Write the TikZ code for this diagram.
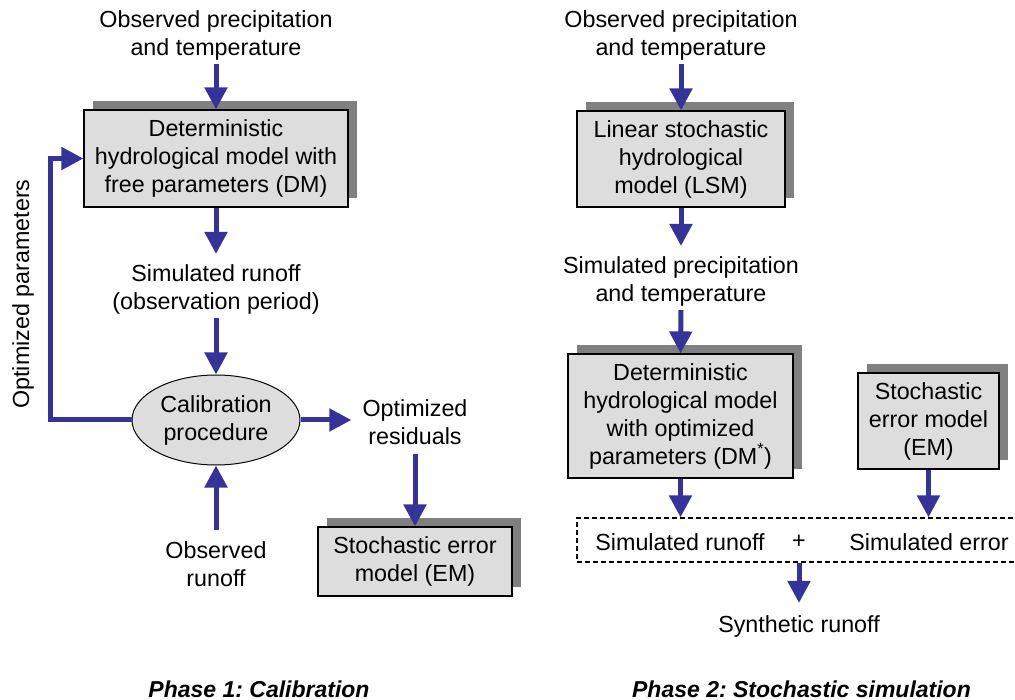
\documentclass[tikz,border=0pt]{standalone}
\usepackage{fontspec}
\setmainfont{Liberation Sans}
\usetikzlibrary{arrows.meta,shapes.geometric,shadows}
\definecolor{arrowblue}{HTML}{333399}
\definecolor{boxfill}{HTML}{DDDDDD}
\definecolor{shadowgray}{HTML}{808080}
\frenchspacing
\tikzset{
  txt/.style={font=\fontsize{23.3}{28}\selectfont, align=center, inner sep=4pt},
  modelbox/.style={txt, draw=black, line width=1.2pt, fill=boxfill, inner sep=0pt,
    drop shadow={shadow xshift=9pt, shadow yshift=9pt, fill=shadowgray, opacity=1, draw=none}},
  calell/.style={txt, ellipse, draw=black, line width=1pt, fill=boxfill, inner sep=0pt,
    minimum width=168pt, minimum height=90pt},
  dashbox/.style={draw=black, line width=1.2pt, dash pattern=on 5pt off 3pt, inner sep=0pt},
  arr/.style={draw=arrowblue, line width=5pt, -{Triangle[width=22pt,length=22pt]}},
  caption/.style={font=\fontsize{23}{28}\selectfont\bfseries\itshape, inner sep=0pt}
}
\begin{document}
\begin{tikzpicture}[x=1pt,y=-1pt]
\clip (0,0) rectangle (1015,700);
\fill[white] (0,0) rectangle (1015,700);

% ---------- Phase 1 ----------
\node[txt] (obsL) at (216,35) {Observed precipitation\\and temperature};
\node[modelbox, minimum width=264pt, minimum height=97pt] (dm) at (216,158.5)
  {Deterministic\\hydrological model with\\free parameters (DM)};
\node[txt] (simR) at (216,289) {Simulated runoff\\(observation period)};
\node[calell] (cal) at (216,420) {Calibration\\procedure};
\node[txt] (optres) at (415,422) {Optimized\\residuals};
\node[modelbox, minimum width=194pt, minimum height=69pt] (emL) at (415,561.5)
  {Stochastic error\\model (EM)};
\node[txt] (obsrun) at (216,564) {Observed\\runoff};
\node[txt, rotate=90] (optpar) at (23,294) {Optimized parameters};
\coordinate (fb) at (50,420);

\draw[arr] (obsL.south) -- (dm.north);
\draw[arr] (dm.south) -- ([yshift=6pt]simR.north);
\draw[arr] (simR.south) -- (cal.north);
\draw[arr] (cal.east) -- ([xshift=-7pt]optres.west |- cal.east);
\draw[arr] ([yshift=-5pt]optres.south) -- (emL.north);
\draw[arr] ([yshift=7pt]obsrun.north) -- (cal.south);
\draw[arr] (cal.west) -- (fb) |- (dm.west);

% ---------- Phase 2 ----------
\node[txt] (obsR) at (681,35) {Observed precipitation\\and temperature};
\node[modelbox, minimum width=208pt, minimum height=96pt] (lsm) at (681,159)
  {Linear stochastic\\hydrological\\model (LSM)};
\node[txt] (simP) at (681,281) {Simulated precipitation\\and temperature};
\node[modelbox, minimum width=225pt, minimum height=124pt] (dms) at (680.5,416)
  {Deterministic\\hydrological model\\with optimized\\parameters (DM\textsuperscript{*})};
\node[modelbox, minimum width=141pt, minimum height=96pt] (sem) at (928.5,421)
  {Stochastic\\error model\\(EM)};
\node[dashbox, minimum width=448pt, minimum height=44pt] (dash) at (801,540) {};
\node[txt] (simrun) at (680,542) {Simulated runoff};
\node[txt] (plus) at (799,542) {+};
\node[txt] (simerr) at (929,542) {Simulated error};
\node[txt] (synth) at (799,626) {Synthetic runoff};

\draw[arr] (obsR.south) -- (lsm.north);
\draw[arr] (lsm.south) -- ([yshift=6pt]simP.north);
\draw[arr] (simP.south) -- (dms.north);
\draw[arr] (dms.south) -- (dms.south |- dash.north);
\draw[arr] (sem.south) -- (sem.south |- dash.north);
\draw[arr] (plus.south |- dash.south) -- ([yshift=8pt]synth.north);

% ---------- Captions ----------
\node[caption] (cap1) at (259,689) {Phase 1: Calibration};
\node[caption] (cap2) at (801.5,689) {Phase 2: Stochastic simulation};
\end{tikzpicture}
\end{document}
